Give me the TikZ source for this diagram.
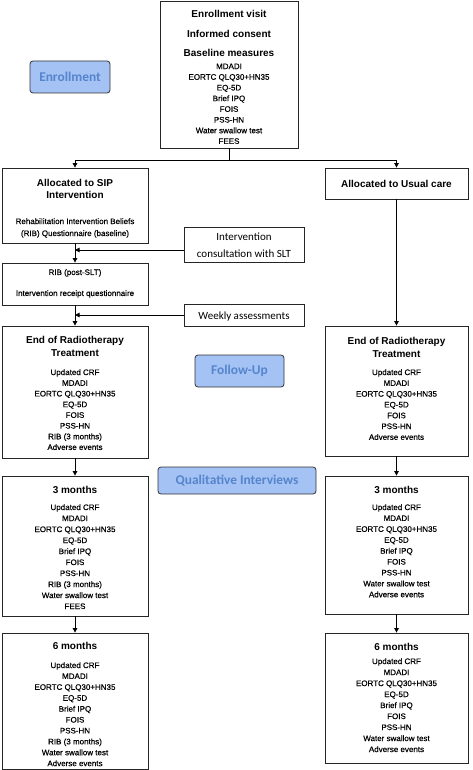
\documentclass[tikz,border=0pt]{standalone}
\usepackage{fontspec}
\setmainfont{Liberation Sans}
\newfontfamily\calib{Carlito}
\newfontfamily\bodyf{Liberation Sans}[FakeBold=0.5]
\usetikzlibrary{arrows.meta}
\definecolor{lblfill}{HTML}{A4C2F4}
\definecolor{lbltext}{HTML}{5585CC}
\newcommand\hd[1]{{\normalfont\fontsize{10}{10.7}\selectfont\bfseries #1}}
\begin{document}
\begin{tikzpicture}[x=1pt,y=-1pt,
  boxshape/.style={draw=black!85, line width=0.8pt, inner sep=0pt},
  txt/.style={align=center, inner sep=0pt, anchor=north},
  lbl/.style={draw=black!80, line width=0.8pt, fill=lblfill, rounded corners=3pt, inner sep=0pt, text=lbltext, font=\calib\bfseries\fontsize{13.4}{15}\selectfont},
  side/.style={align=center, inner sep=0pt, font=\calib\fontsize{11}{17}\selectfont},
  conn/.style={line width=0.8pt, -{Triangle[length=4.5pt,width=4.5pt]}},
  plain/.style={line width=0.8pt}
]
\useasboundingbox (0,0) rectangle (473,770);

% boxes
\node[boxshape, minimum width=138pt, minimum height=147pt] (top) at (229,74.5) {};
\node[boxshape, minimum width=146pt, minimum height=75pt] (sip) at (75,205.5) {};
\node[boxshape, minimum width=143pt, minimum height=31pt] (usual) at (396.5,183.5) {};
\node[boxshape, minimum width=120pt, minimum height=35pt] (consult) at (244,244.5) {};
\node[boxshape, minimum width=146pt, minimum height=42pt] (rib) at (75,284) {};
\node[boxshape, minimum width=120pt, minimum height=22pt] (weekly) at (244,315) {};
\node[boxshape, minimum width=146pt, minimum height=132pt] (endL) at (75,392) {};
\node[boxshape, minimum width=143pt, minimum height=130pt] (endR) at (396.5,391) {};
\node[boxshape, minimum width=146pt, minimum height=140pt] (m3L) at (75,546) {};
\node[boxshape, minimum width=143pt, minimum height=138pt] (m3R) at (396.5,545) {};
\node[boxshape, minimum width=146pt, minimum height=136pt] (m6L) at (75,701) {};
\node[boxshape, minimum width=143pt, minimum height=130pt] (m6R) at (396.5,698) {};

% labels
\node[lbl, minimum width=80pt, minimum height=32pt] (enr) at (70,77) {Enrollment};
\node[lbl, minimum width=89pt, minimum height=32pt] (fol) at (239.5,371) {Follow-Up};
\node[lbl, minimum width=158pt, minimum height=27pt] (qual) at (237,480.5) {Qualitative Interviews};

% texts
\node[txt, font=\bodyf\fontsize{8}{10.7}\selectfont] (topT) at (229,10.3) {\hd{Enrollment visit}\\[9.3pt]\hd{Informed consent}\\[8.3pt]\hd{Baseline measures}\\[1.6pt]MDADI\\EORTC QLQ30+HN35\\EQ-5D\\Brief IPQ\\FOIS\\PSS-HN\\Water swallow test\\FEES};
\node[txt, font=\bodyf\fontsize{8}{10.7}\selectfont] (sipT) at (75,179.3) {\hd{Allocated to SIP}\\[1.3pt]\hd{Intervention}\\[14.6pt]Rehabilitation Intervention Beliefs\\[1.3pt](RIB) Questionnaire (baseline)};
\node[txt, anchor=center] (usualT) at (396.5,183.5) {\hd{Allocated to Usual care}};
\node[side] (consultT) at (244,245.5) {Intervention\\consultation with SLT};
\node[txt, font=\bodyf\fontsize{8}{10.7}\selectfont] (ribT) at (75,269) {RIB (post-SLT)\\[10.3pt]Intervention receipt questionnaire};
\node[side, anchor=base] (weeklyT) at (244,319.5) {Weekly assessments};
\node[txt, font=\bodyf\fontsize{8}{10.7}\selectfont] (endLT) at (75,336.3) {\hd{End of Radiotherapy}\\[2.3pt]\hd{Treatment}\\[7.6pt]Updated CRF\\MDADI\\EORTC QLQ30+HN35\\EQ-5D\\FOIS\\PSS-HN\\RIB (3 months)\\Adverse events};
\node[txt, font=\bodyf\fontsize{8}{10.8}\selectfont] (endRT) at (396.5,337.3) {\hd{End of Radiotherapy}\\[2.2pt]\hd{Treatment}\\[6.5pt]Updated CRF\\MDADI\\EORTC QLQ30+HN35\\EQ-5D\\FOIS\\PSS-HN\\Adverse events};
\node[txt, font=\bodyf\fontsize{8}{11}\selectfont] (m3LT) at (75,486.3) {\hd{3 months}\\[5.3pt]Updated CRF\\MDADI\\EORTC QLQ30+HN35\\EQ-5D\\Brief IPQ\\FOIS\\PSS-HN\\RIB (3 months)\\Water swallow test\\FEES};
\node[txt, font=\bodyf\fontsize{8}{10.9}\selectfont] (m3RT) at (396.5,486.3) {\hd{3 months}\\[5.4pt]Updated CRF\\MDADI\\EORTC QLQ30+HN35\\EQ-5D\\Brief IPQ\\FOIS\\PSS-HN\\Water swallow test\\Adverse events};
\node[txt, font=\bodyf\fontsize{8}{10.9}\selectfont] (m6LT) at (75,642.3) {\hd{6 months}\\[7.4pt]Updated CRF\\MDADI\\EORTC QLQ30+HN35\\EQ-5D\\Brief IPQ\\FOIS\\PSS-HN\\RIB (3 months)\\Water swallow test\\Adverse events};
\node[txt, font=\bodyf\fontsize{8}{11}\selectfont] (m6RT) at (396.5,643.3) {\hd{6 months}\\[2.3pt]Updated CRF\\MDADI\\EORTC QLQ30+HN35\\EQ-5D\\Brief IPQ\\FOIS\\PSS-HN\\Water swallow test\\Adverse events};

% connectors
\coordinate (split) at (229,160);
\draw[plain] (top.south) -- (split);
\draw[conn] (split) -| (sip.north);
\draw[conn] (split) -| (usual.north);
\draw[conn] (usual.south) -- (endR.north);
\draw[conn] (sip.south) -- (rib.north);
\coordinate (cj) at (75,250);
\draw[conn] (consult.west |- cj) -- (cj);
\draw[conn] (rib.south) -- (endL.north);
\draw[conn] (weekly.west) -- (weekly.west -| rib.south);
\draw[conn] (endL.south) -- (m3L.north);
\draw[conn] (endR.south) -- (m3R.north);
\draw[conn] (m3L.south) -- (m6L.north);
\draw[conn] (m3R.south) -- (m6R.north);
\end{tikzpicture}
\end{document}
